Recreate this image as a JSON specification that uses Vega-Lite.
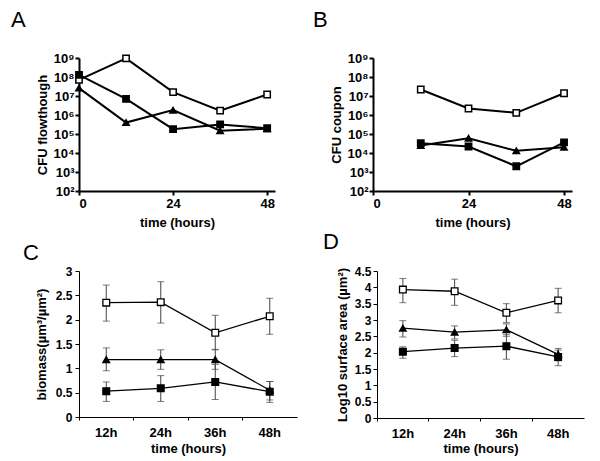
{
  "$schema": "https://vega.github.io/schema/vega-lite/v6.json",
  "padding": {"left": 11, "top": 9, "right": 5, "bottom": 5},
  "background": "white",
  "config": {
    "view": {"stroke": null},
    "axis": {"grid": false, "domainColor": "black", "tickColor": "black", "labelColor": "black", "titleColor": "black",
      "labelFont": "Liberation Sans", "titleFont": "Liberation Sans", "labelFontWeight": "bold", "titleFontWeight": "bold",
      "labelFontSize": 12, "titleFontSize": 13, "tickSize": 4},
    "title": {"font": "Liberation Sans", "fontSize": 22, "fontWeight": "normal", "color": "black", "anchor": "start", "frame": "group"}
  },
  "datasets": {
    "a": [
      {"t": 0, "v": 7e7, "s": "open"}, {"t": 12, "v": 9.5e8, "s": "open"}, {"t": 24, "v": 1.6e7, "s": "open"}, {"t": 36, "v": 1.7e6, "s": "open"}, {"t": 48, "v": 1.2e7, "s": "open"},
      {"t": 0, "v": 1.3e8, "s": "filled"}, {"t": 12, "v": 7e6, "s": "filled"}, {"t": 24, "v": 1.8e5, "s": "filled"}, {"t": 36, "v": 3.2e5, "s": "filled"}, {"t": 48, "v": 2e5, "s": "filled"},
      {"t": 0, "v": 2.6e7, "s": "tri"}, {"t": 12, "v": 4e5, "s": "tri"}, {"t": 24, "v": 1.8e6, "s": "tri"}, {"t": 36, "v": 1.5e5, "s": "tri"}, {"t": 48, "v": 1.9e5, "s": "tri"}
    ],
    "b": [
      {"t": 12, "v": 2.2e7, "s": "open"}, {"t": 24, "v": 2.2e6, "s": "open"}, {"t": 36, "v": 1.3e6, "s": "open"}, {"t": 48, "v": 1.4e7, "s": "open"},
      {"t": 12, "v": 3.3e4, "s": "filled"}, {"t": 24, "v": 2.2e4, "s": "filled"}, {"t": 36, "v": 2e3, "s": "filled"}, {"t": 48, "v": 3.6e4, "s": "filled"},
      {"t": 12, "v": 2.5e4, "s": "tri"}, {"t": 24, "v": 5.9e4, "s": "tri"}, {"t": 36, "v": 1.3e4, "s": "tri"}, {"t": 48, "v": 2e4, "s": "tri"}
    ],
    "c": [
      {"h": "12h", "s": "open", "v": 2.35, "lo": 1.97, "hi": 2.71}, {"h": "24h", "s": "open", "v": 2.36, "lo": 1.93, "hi": 2.78}, {"h": "36h", "s": "open", "v": 1.73, "lo": 1.38, "hi": 2.09}, {"h": "48h", "s": "open", "v": 2.07, "lo": 1.70, "hi": 2.44},
      {"h": "12h", "s": "tri", "v": 1.18, "lo": 0.95, "hi": 1.42}, {"h": "24h", "s": "tri", "v": 1.18, "lo": 0.98, "hi": 1.38}, {"h": "36h", "s": "tri", "v": 1.18, "lo": 0.98, "hi": 1.39}, {"h": "48h", "s": "tri", "v": 0.55, "lo": 0.35, "hi": 0.73},
      {"h": "12h", "s": "filled", "v": 0.53, "lo": 0.32, "hi": 0.72}, {"h": "24h", "s": "filled", "v": 0.59, "lo": 0.32, "hi": 0.85}, {"h": "36h", "s": "filled", "v": 0.72, "lo": 0.36, "hi": 1.08}, {"h": "48h", "s": "filled", "v": 0.52, "lo": 0.30, "hi": 0.73}
    ],
    "d": [
      {"h": "12h", "s": "open", "v": 3.93, "lo": 3.53, "hi": 4.27}, {"h": "24h", "s": "open", "v": 3.88, "lo": 3.45, "hi": 4.25}, {"h": "36h", "s": "open", "v": 3.22, "lo": 2.92, "hi": 3.50}, {"h": "48h", "s": "open", "v": 3.60, "lo": 3.22, "hi": 3.97},
      {"h": "12h", "s": "tri", "v": 2.75, "lo": 2.48, "hi": 2.98}, {"h": "24h", "s": "tri", "v": 2.63, "lo": 2.42, "hi": 2.82}, {"h": "36h", "s": "tri", "v": 2.70, "lo": 2.50, "hi": 2.88}, {"h": "48h", "s": "tri", "v": 1.95, "lo": 1.75, "hi": 2.13},
      {"h": "12h", "s": "filled", "v": 2.03, "lo": 1.83, "hi": 2.18}, {"h": "24h", "s": "filled", "v": 2.14, "lo": 1.88, "hi": 2.38}, {"h": "36h", "s": "filled", "v": 2.20, "lo": 1.80, "hi": 2.55}, {"h": "48h", "s": "filled", "v": 1.87, "lo": 1.60, "hi": 2.08}
    ]
  },
  "vconcat": [
    {
      "hconcat": [
        {
          "title": {"text": "A", "dx": -68, "offset": 20},
          "width": 196, "height": 133,
          "data": {"name": "a"},
          "encoding": {
            "x": {"field": "t", "type": "quantitative", "scale": {"domain": [0, 50], "nice": false}, "axis": {"values": [0, 24, 48], "title": "time (hours)", "domainWidth": 2, "tickWidth": 2, "labelPadding": 2, "titlePadding": 6, "labelFontSize": 13}},
            "y": {"field": "v", "type": "quantitative", "scale": {"type": "log", "domain": [100, 1000000000], "nice": false}, "axis": {"values": [100, 1000, 10000, 100000, 1000000, 10000000, 100000000, 1000000000], "labelExpr": "'10' + ['','','²','³','⁴','⁵','⁶','⁷','⁸','⁹'][round(log(datum.value)/LN10)]", "title": "CFU flowthough", "domainWidth": 2, "tickWidth": 2, "labelPadding": 1, "titlePadding": 4, "labelFontSize": 13}},
            "detail": {"field": "s"}
          },
          "layer": [
            {"mark": {"type": "line", "color": "black", "strokeWidth": 2}},
            {"mark": {"type": "point", "filled": true, "stroke": "black", "strokeWidth": 1.5, "opacity": 1, "size": 40},
             "encoding": {
               "shape": {"field": "s", "type": "nominal", "scale": {"domain": ["open", "filled", "tri"], "range": ["square", "square", "triangle-up"]}, "legend": null},
               "fill": {"field": "s", "type": "nominal", "scale": {"domain": ["open", "filled", "tri"], "range": ["white", "black", "black"]}, "legend": null}
             }}
          ]
        },
        {
          "title": {"text": "B", "dx": -60, "offset": 20},
          "width": 199, "height": 133,
          "data": {"name": "b"},
          "encoding": {
            "x": {"field": "t", "type": "quantitative", "scale": {"domain": [0, 50], "nice": false}, "axis": {"values": [0, 24, 48], "title": "time (hours)", "domainWidth": 2, "tickWidth": 2, "labelPadding": 2, "titlePadding": 6, "labelFontSize": 13}},
            "y": {"field": "v", "type": "quantitative", "scale": {"type": "log", "domain": [100, 1000000000], "nice": false}, "axis": {"values": [100, 1000, 10000, 100000, 1000000, 10000000, 100000000, 1000000000], "labelExpr": "'10' + ['','','²','³','⁴','⁵','⁶','⁷','⁸','⁹'][round(log(datum.value)/LN10)]", "title": "CFU coupon", "domainWidth": 2, "tickWidth": 2, "labelPadding": 1, "titlePadding": 4, "labelFontSize": 13}},
            "detail": {"field": "s"}
          },
          "layer": [
            {"mark": {"type": "line", "color": "black", "strokeWidth": 2}},
            {"mark": {"type": "point", "filled": true, "stroke": "black", "strokeWidth": 1.5, "opacity": 1, "size": 40},
             "encoding": {
               "shape": {"field": "s", "type": "nominal", "scale": {"domain": ["open", "filled", "tri"], "range": ["square", "square", "triangle-up"]}, "legend": null},
               "fill": {"field": "s", "type": "nominal", "scale": {"domain": ["open", "filled", "tri"], "range": ["white", "black", "black"]}, "legend": null}
             }}
          ]
        }
      ],
      "spacing": 98,
      "bounds": "flush"
    },
    {
      "hconcat": [
        {
          "title": {"text": "C", "dx": -56, "offset": 0},
          "width": 218, "height": 146,
          "data": {"name": "c"},
          "encoding": {
            "x": {"field": "h", "type": "nominal", "scale": {"paddingInner": 0, "paddingOuter": 0}, "axis": {"labelAngle": 0, "bandPosition": 0, "tickSize": 3, "labelPadding": 6, "labelDx": 3, "labelFontSize": 13, "title": "time (hours)", "titlePadding": 3}},
            "y": {"field": "v", "type": "quantitative", "scale": {"domain": [0, 3], "nice": false}, "axis": {"values": [0, 0.5, 1, 1.5, 2, 2.5, 3], "format": "~g", "title": "biomass(µm³/µm²)", "labelPadding": 3, "titlePadding": 7}}
          },
          "layer": [
            {"mark": {"type": "rule", "color": "#444", "strokeWidth": 1}, "encoding": {"y": {"field": "lo", "type": "quantitative"}, "y2": {"field": "hi"}}},
            {"mark": {"type": "tick", "color": "#444", "thickness": 1, "size": 7, "orient": "horizontal"}, "encoding": {"y": {"field": "lo", "type": "quantitative"}}},
            {"mark": {"type": "tick", "color": "#444", "thickness": 1, "size": 7, "orient": "horizontal"}, "encoding": {"y": {"field": "hi", "type": "quantitative"}}},
            {"mark": {"type": "line", "color": "black", "strokeWidth": 1.3}, "encoding": {"detail": {"field": "s"}}},
            {"mark": {"type": "point", "filled": true, "stroke": "black", "strokeWidth": 1.3, "opacity": 1, "size": 45},
             "encoding": {
               "shape": {"field": "s", "type": "nominal", "scale": {"domain": ["open", "filled", "tri"], "range": ["square", "square", "triangle-up"]}, "legend": null},
               "fill": {"field": "s", "type": "nominal", "scale": {"domain": ["open", "filled", "tri"], "range": ["white", "black", "black"]}, "legend": null}
             }}
          ]
        },
        {
          "title": {"text": "D", "dx": -54, "offset": 11},
          "width": 207, "height": 147,
          "data": {"name": "d"},
          "encoding": {
            "x": {"field": "h", "type": "nominal", "scale": {"paddingInner": 0, "paddingOuter": 0}, "axis": {"labelAngle": 0, "bandPosition": 0, "tickSize": 3, "labelPadding": 6, "labelDx": 6, "labelFontSize": 13, "title": "time (hours)", "titlePadding": 2}},
            "y": {"field": "v", "type": "quantitative", "scale": {"domain": [0, 4.5], "nice": false}, "axis": {"values": [0, 0.5, 1, 1.5, 2, 2.5, 3, 3.5, 4, 4.5], "format": "~g", "title": "Log10  surface area (µm²)", "labelPadding": 2, "titlePadding": 5}}
          },
          "layer": [
            {"mark": {"type": "rule", "color": "#444", "strokeWidth": 1}, "encoding": {"y": {"field": "lo", "type": "quantitative"}, "y2": {"field": "hi"}}},
            {"mark": {"type": "tick", "color": "#444", "thickness": 1, "size": 7, "orient": "horizontal"}, "encoding": {"y": {"field": "lo", "type": "quantitative"}}},
            {"mark": {"type": "tick", "color": "#444", "thickness": 1, "size": 7, "orient": "horizontal"}, "encoding": {"y": {"field": "hi", "type": "quantitative"}}},
            {"mark": {"type": "line", "color": "black", "strokeWidth": 1.3}, "encoding": {"detail": {"field": "s"}}},
            {"mark": {"type": "point", "filled": true, "stroke": "black", "strokeWidth": 1.3, "opacity": 1, "size": 45},
             "encoding": {
               "shape": {"field": "s", "type": "nominal", "scale": {"domain": ["open", "filled", "tri"], "range": ["square", "square", "triangle-up"]}, "legend": null},
               "fill": {"field": "s", "type": "nominal", "scale": {"domain": ["open", "filled", "tri"], "range": ["white", "black", "black"]}, "legend": null}
             }}
          ]
        }
      ],
      "spacing": 80,
      "bounds": "flush"
    }
  ],
  "spacing": 213,
  "bounds": "flush"
}
